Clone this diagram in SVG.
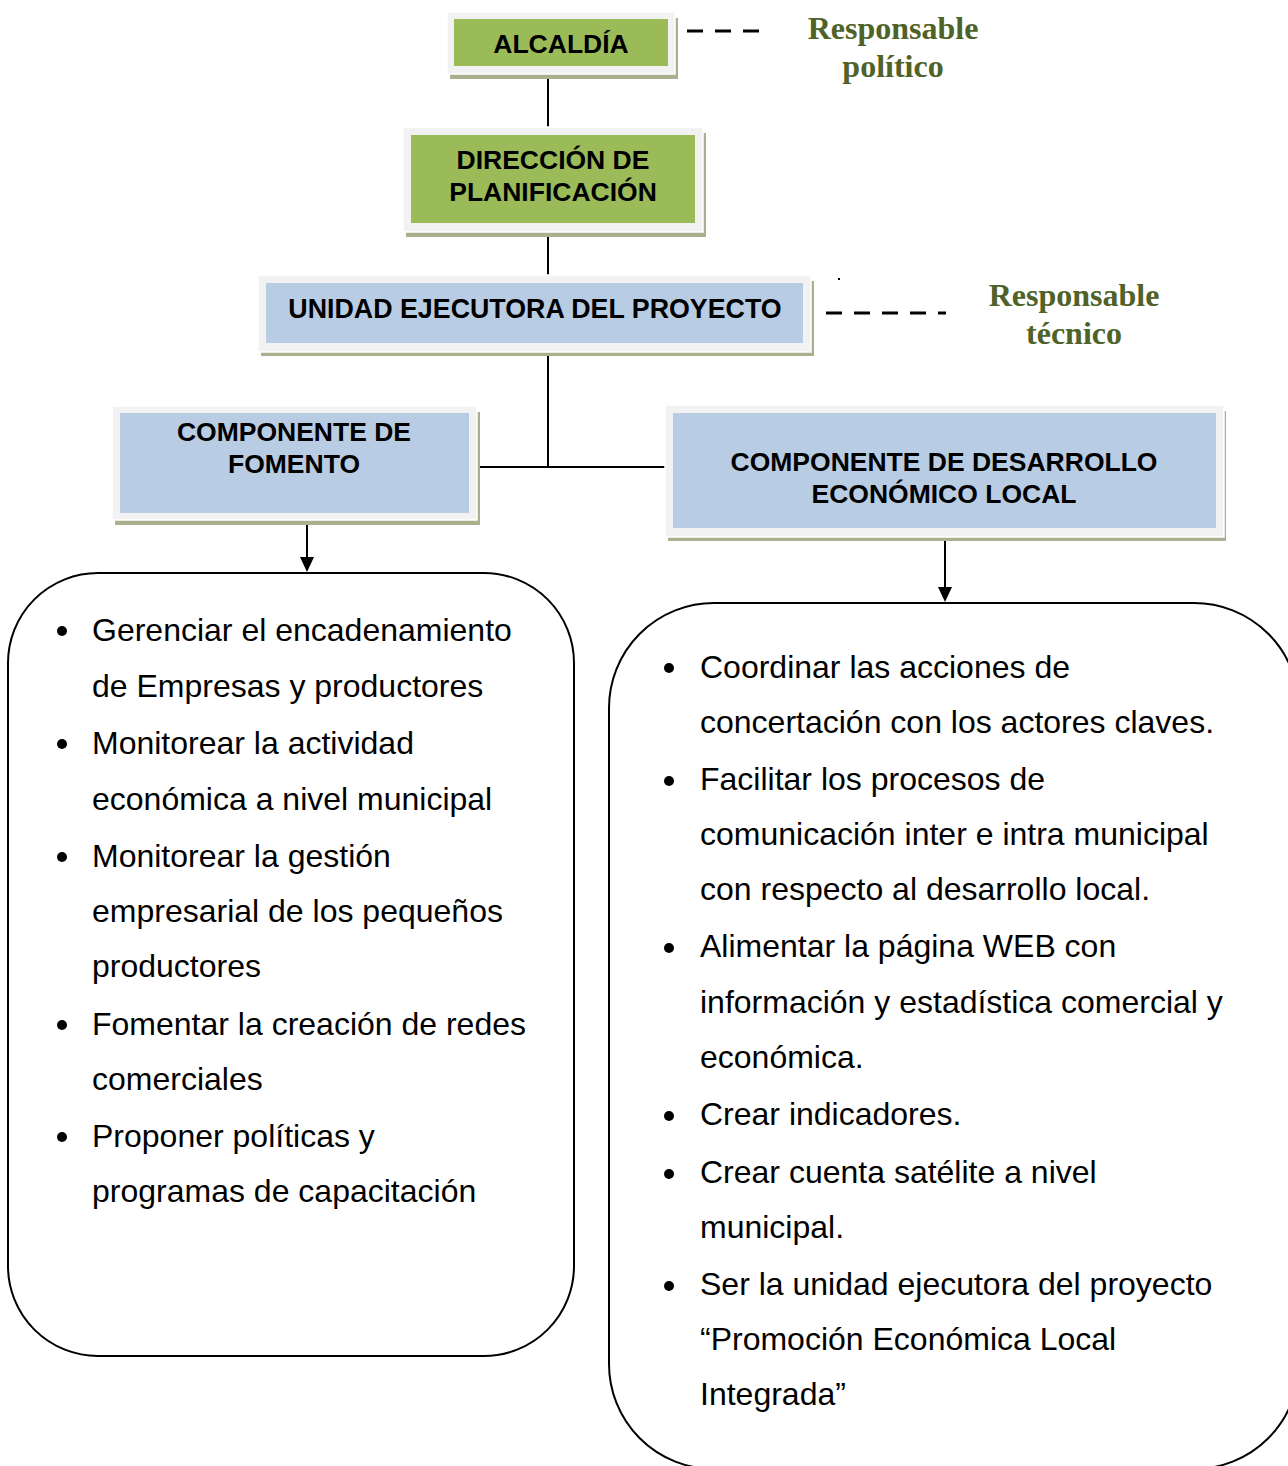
<svg xmlns="http://www.w3.org/2000/svg" width="1288" height="1466" viewBox="0 0 1288 1466">
<style>
.shadow{fill:#a9b08e}
.frame{fill:#f2f2f2;stroke:#ffffff;stroke-width:1.5}
.green{fill:#9bbb59}
.blue{fill:#b8cce4}
.bt{font-family:"Liberation Sans",Arial,sans-serif;font-weight:bold;font-size:26.5px;fill:#000;text-anchor:middle}
.resp{font-family:"Liberation Serif","Times New Roman",serif;font-weight:bold;font-size:32px;fill:#4f6228;text-anchor:middle}
.li{font-family:"Liberation Sans",Arial,sans-serif;font-size:32px;fill:#000}
.line{stroke:#000;stroke-width:2;fill:none}
.dash{stroke:#000;stroke-width:3;fill:none;stroke-dasharray:16 12}
.panel{fill:#fff;stroke:#000;stroke-width:2}
.head{fill:#000}
</style>
<rect width="1288" height="1466" fill="#fff"/>

<g id="connectors">
<line class="line" x1="548" y1="79" x2="548" y2="127"/>
<line class="line" x1="548" y1="237" x2="548" y2="275"/>
<line class="line" x1="548" y1="356" x2="548" y2="467"/>
<line class="line" x1="479" y1="467" x2="665" y2="467"/>
<line class="line" x1="307" y1="525" x2="307" y2="558"/>
<path class="head" d="M300,557 L314,557 L307,572 Z"/>
<line class="line" x1="945" y1="541" x2="945" y2="588"/>
<path class="head" d="M938,587 L952,587 L945,602 Z"/>
<line class="dash" x1="687" y1="31" x2="760" y2="31"/>
<line class="dash" x1="826" y1="313" x2="946" y2="313"/>
<rect x="838" y="278" width="2" height="2" fill="#000"/>
</g>

<g id="alcaldia">
<rect class="shadow" x="450" y="18" width="228" height="61"/>
<rect class="frame" x="447" y="12" width="228" height="62"/>
<rect class="green" x="454" y="19" width="214" height="47"/>
<text class="bt" x="561" y="53">ALCALDÍA</text>
</g>

<g id="direccion">
<rect class="shadow" x="406" y="133" width="300" height="104"/>
<rect class="frame" x="403" y="127" width="300" height="105"/>
<rect class="green" x="411" y="135" width="284" height="88"/>
<text class="bt" x="553" y="169">DIRECCIÓN DE</text>
<text class="bt" x="553" y="201">PLANIFICACIÓN</text>
</g>

<g id="unidad">
<rect class="shadow" x="261" y="281" width="553" height="75"/>
<rect class="frame" x="258" y="275" width="553" height="77"/>
<rect class="blue" x="266" y="283" width="537" height="60"/>
<text class="bt" x="535" y="318" style="font-size:26.8px">UNIDAD EJECUTORA DEL PROYECTO</text>
</g>

<g id="fomento">
<rect class="shadow" x="115" y="412" width="365" height="113"/>
<rect class="frame" x="112" y="406" width="365" height="114"/>
<rect class="blue" x="120" y="413" width="349" height="100"/>
<text class="bt" x="294" y="441">COMPONENTE DE</text>
<text class="bt" x="294" y="473">FOMENTO</text>
</g>

<g id="desarrollo">
<rect class="shadow" x="668" y="411" width="558" height="130"/>
<rect class="frame" x="665" y="405" width="559" height="132"/>
<rect class="blue" x="673" y="413" width="543" height="115"/>
<text class="bt" x="944" y="471">COMPONENTE DE DESARROLLO</text>
<text class="bt" x="944" y="503">ECONÓMICO LOCAL</text>
</g>

<g id="resp-politico">
<text class="resp" x="893" y="39">Responsable</text>
<text class="resp" x="893" y="77">político</text>
</g>

<g id="resp-tecnico">
<text class="resp" x="1074" y="306">Responsable</text>
<text class="resp" x="1074" y="344">técnico</text>
</g>

<g id="lista-fomento">
<rect class="panel" x="8" y="573" width="566" height="783" rx="90" ry="90"/>
<circle cx="62" cy="631" r="5"/>
<circle cx="62" cy="744" r="5"/>
<circle cx="62" cy="857" r="5"/>
<circle cx="62" cy="1025" r="5"/>
<circle cx="62" cy="1137" r="5"/>
<text class="li" x="92" y="641">Gerenciar el encadenamiento</text>
<text class="li" x="92" y="697">de Empresas y productores</text>
<text class="li" x="92" y="754">Monitorear la actividad</text>
<text class="li" x="92" y="810">económica a nivel municipal</text>
<text class="li" x="92" y="867">Monitorear la gestión</text>
<text class="li" x="92" y="922">empresarial de los pequeños</text>
<text class="li" x="92" y="977">productores</text>
<text class="li" x="92" y="1035">Fomentar la creación de redes</text>
<text class="li" x="92" y="1090">comerciales</text>
<text class="li" x="92" y="1147">Proponer políticas y</text>
<text class="li" x="92" y="1202">programas de capacitación</text>
</g>

<g id="lista-desarrollo">
<rect class="panel" x="609" y="603" width="690" height="866" rx="105" ry="105"/>
<circle cx="669" cy="668" r="5"/>
<circle cx="669" cy="781" r="5"/>
<circle cx="669" cy="948" r="5"/>
<circle cx="669" cy="1116" r="5"/>
<circle cx="669" cy="1174" r="5"/>
<circle cx="669" cy="1286" r="5"/>
<text class="li" x="700" y="678">Coordinar las acciones de</text>
<text class="li" x="700" y="733">concertación con los actores claves.</text>
<text class="li" x="700" y="790">Facilitar los procesos de</text>
<text class="li" x="700" y="845">comunicación inter e intra municipal</text>
<text class="li" x="700" y="900">con respecto al desarrollo local.</text>
<text class="li" x="700" y="957">Alimentar la página WEB con</text>
<text class="li" x="700" y="1013">información y estadística comercial y</text>
<text class="li" x="700" y="1068">económica.</text>
<text class="li" x="700" y="1125">Crear indicadores.</text>
<text class="li" x="700" y="1183">Crear cuenta satélite a nivel</text>
<text class="li" x="700" y="1238">municipal.</text>
<text class="li" x="700" y="1295">Ser la unidad ejecutora del proyecto</text>
<text class="li" x="700" y="1350">“Promoción Económica Local</text>
<text class="li" x="700" y="1405">Integrada”</text>
</g>
</svg>
